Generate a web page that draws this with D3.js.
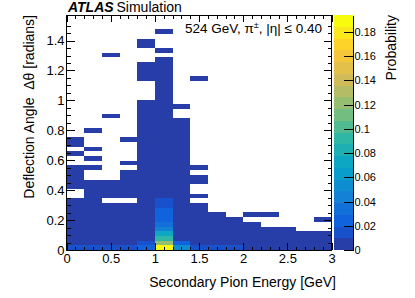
<!DOCTYPE html>
<html><head><meta charset="utf-8">
<script src="https://cdn.jsdelivr.net/npm/d3@7"></script>
<style>
body{margin:0;background:#fff}
svg{display:block}
text{font-family:"Liberation Sans",Arial,Helvetica,sans-serif;fill:#000}
</style></head>
<body><svg id="c" width="415" height="298"></svg>
<script>
// ---------- data ----------
const xEdges = [0,0.2,0.4,0.6,0.8,1.0,1.2,1.4,1.6,1.8,2.0,2.2,2.4,2.6,2.8,3.0];
const thetaMax = 1.5708;
const nThetaBins = 50;
const xTickValues = [0,0.5,1,1.5,2,2.5,3];
const xTickLabels = ["0","0.5","1","1.5","2","2.5","3"];
const yTickValues = [0,0.2,0.4,0.6,0.8,1.0,1.2,1.4];
const yTickLabels = ["0","0.2","0.4","0.6","0.8","1","1.2","1.4"];
const zTickValues = [0,0.02,0.04,0.06,0.08,0.1,0.12,0.14,0.16,0.18];
const zTickLabels = ["0","0.02","0.04","0.06","0.08","0.1","0.12","0.14","0.16","0.18"];
const zMax = 0.194;
const nContours = 20;
// probability per energy bin, listed by deflection-angle bin from the bottom (missing = empty)
const p00 = [.015,.006,.006,.006,.006,.006,.006,.006,.006,.006, .006,0,0,.002,.002,.002,.002,.002,0,0, .001,0,.001,.001];
const p01 = [.015,.005,.005,.005,.005,.005,.005,.005,.005,.005, .005,.005,.005,.005,.005,0,0,.001,0,.001, 0,.001,0,0,0,.001];
const p02 = [.015,.005,.005,.005,.005,.005,.005,.005,.005,.005, 0,.002,.002,.002,.002,0,0,0,0,0, 0,0,0,0,0,0,0,0,.001,0, 0,0,0,0,0,0,0,0,0,0, 0,.001];
const p03 = [.015,.005,.005,.005,.005,.005,.005,.005,.005,.005, 0,.002,.002,.002,.002,.002,.002,0,.001,0, 0,0,0,.001];
const p04 = [.022,.012,.005,.005,.005,.005,.005,.005,.005,.005, .005,.005,.005,.005,.005,.005,.005,.005,.005,.005, .005,.005,.005,.005,.005,.005,.005,.005,.005,.005, .005,.005,0,0,0,0,.002,.002,.002,.002, 0,0,0,.001,.001];
const p05 = [.192,.125,.092,.068,.045,.035,.025,.022,.020,.018, .015,.007,.007,.007,.007,.007,.007,.007,.007,.007, .006,.006,.006,.006,.006,.006,.006,.006,.006,.006, .005,.005,.005,.005,.005,.005,.005,.005,.005,.005, .004,0,.001,0,0,0,.001];
const p06 = [.052,.022,.005,.005,.005,.005,.005,.005,.005,.005, .005,.005,.005,.005,.005,.005,.005,.005,.005,.005, .004,.004,.004,.004,.004,.004,.004,.004,0,0, .001];
const p07 = [.014,.004,.004,.004,.004,.004,.004,.004,.004,.004, 0,.001,0,0,.001,.001,0,.001,0,0, 0,0,0,0,0,0,0,0,0,0, 0,0,0,0,0,0,.001];
const p08 = [.012,.004,.004,.004,.004,.004,.004,.004];
const p09 = [.011,.003,.003,.003,.003,.003,.003];
const p10 = [.005,.003,.003,.003,.003,.003,0,.001];
const p11 = [.003,.003,.003,.003,.003,0,0,.001];
const p12 = [.003,.003,.003,.003,.003];
const p13 = [.003,.003,.003,.003];
const p14 = [.003,.003,.003,.003,0,0,.001];
const probability = [p00,p01,p02,p03,p04,p05,p06,p07,p08,p09,p10,p11,p12,p13,p14];

const topLabel = "ATLAS";
const topLabel2 = "Simulation";
const xTitle = "Secondary Pion Energy [GeV]";
const yTitle = "Deflection Angle  \u0394\u03b8 [radians]";
const zTitle = "Probability";

// ROOT kBird palette
const birdStops = [0,0.125,0.25,0.375,0.5,0.625,0.75,0.875,1];
const birdR = [0.2082,0.0592,0.0780,0.0232,0.1802,0.5301,0.8186,0.9956,0.9764];
const birdG = [0.1664,0.3599,0.5041,0.6419,0.7178,0.7492,0.7328,0.7862,0.9832];
const birdB = [0.5293,0.8684,0.8385,0.7914,0.6425,0.4662,0.3499,0.1968,0.0539];

// ---------- drawing ----------
const svg = d3.select("#c");
const L=66.5, R=331.5, T=15, B=250;
const x = d3.scaleLinear().domain([0,3]).range([L,R]);
const y = d3.scaleLinear().domain([0,thetaMax]).range([B,T]);
const z = d3.scaleLinear().domain([0,zMax]).range([B,T]);
const bird = d3.scaleLinear().domain(birdStops)
  .range(birdStops.map((s,i)=>d3.rgb(birdR[i]*255,birdG[i]*255,birdB[i]*255)))
  .interpolate(d3.interpolateRgb);
function levelColor(k){
  const idx = Math.floor((k+0.99)*255/nContours);
  return bird(Math.min(idx,254)/254);
}
function levelOf(v){ return Math.min(nContours-1, Math.floor(v/zMax*nContours)); }

const dTheta = thetaMax/nThetaBins;
const cells = [];
probability.forEach((col,i)=>col.forEach((v,j)=>{ if(v>0) cells.push({i,j,v}); }));
svg.append("g").attr("shape-rendering","crispEdges").selectAll("rect").data(cells).join("rect")
  .attr("x",d=>x(xEdges[d.i]))
  .attr("width",d=>x(xEdges[d.i+1])-x(xEdges[d.i]))
  .attr("y",d=>y((d.j+1)*dTheta))
  .attr("height",d=>y(d.j*dTheta)-y((d.j+1)*dTheta))
  .attr("fill",d=>levelColor(levelOf(d.v)));

// frame
svg.append("rect").attr("x",L).attr("y",T).attr("width",R-L).attr("height",B-T)
  .attr("fill","none").attr("stroke","#000").attr("stroke-width",1).attr("shape-rendering","crispEdges");

const xMinor = d3.range(0,3.0001,0.1);
const yMinor = d3.range(0,1.55,0.05);
function styleAxis(g){ g.select(".domain").remove(); g.selectAll("line").attr("stroke","#000").attr("shape-rendering","crispEdges"); }

// bottom
svg.append("g").attr("transform",`translate(0,${B})`)
  .call(d3.axisBottom(x).tickValues(xTickValues).tickFormat((d,i)=>xTickLabels[i]).tickSizeInner(-7).tickSizeOuter(0).tickPadding(4))
  .call(styleAxis).call(g=>g.selectAll("text").attr("font-size",13).attr("font-family",null));
svg.append("g").attr("transform",`translate(0,${B})`)
  .call(d3.axisBottom(x).tickValues(xMinor).tickFormat("").tickSizeInner(-3.5).tickSizeOuter(0)).call(styleAxis);
// top
svg.append("g").attr("transform",`translate(0,${T})`)
  .call(d3.axisTop(x).tickValues(xTickValues).tickFormat("").tickSizeInner(-7).tickSizeOuter(0)).call(styleAxis);
svg.append("g").attr("transform",`translate(0,${T})`)
  .call(d3.axisTop(x).tickValues(xMinor).tickFormat("").tickSizeInner(-3.5).tickSizeOuter(0)).call(styleAxis);
// left
svg.append("g").attr("transform",`translate(${L},0)`)
  .call(d3.axisLeft(y).tickValues(yTickValues).tickFormat((d,i)=>yTickLabels[i]).tickSizeInner(-8).tickSizeOuter(0).tickPadding(2))
  .call(styleAxis).call(g=>g.selectAll("text").attr("font-size",13).attr("font-family",null));
svg.append("g").attr("transform",`translate(${L},0)`)
  .call(d3.axisLeft(y).tickValues(yMinor).tickFormat("").tickSizeInner(-4).tickSizeOuter(0)).call(styleAxis);
// right
svg.append("g").attr("transform",`translate(${R},0)`)
  .call(d3.axisRight(y).tickValues(yTickValues).tickFormat("").tickSizeInner(-8).tickSizeOuter(0)).call(styleAxis);
svg.append("g").attr("transform",`translate(${R},0)`)
  .call(d3.axisRight(y).tickValues(yMinor).tickFormat("").tickSizeInner(-4).tickSizeOuter(0)).call(styleAxis);

// colour bar
const CL=333.5, CR=352.5;
const bands = d3.range(nContours);
svg.append("g").attr("shape-rendering","crispEdges").selectAll("rect").data(bands).join("rect")
  .attr("x",CL).attr("width",CR-CL)
  .attr("y",k=>z((k+1)*zMax/nContours))
  .attr("height",k=>z(k*zMax/nContours)-z((k+1)*zMax/nContours))
  .attr("fill",k=>levelColor(k));
svg.append("g").attr("transform",`translate(${CR},0)`)
  .call(d3.axisRight(z).tickValues(zTickValues).tickFormat((d,i)=>zTickLabels[i]).tickSizeInner(-9).tickSizeOuter(0).tickPadding(2))
  .call(g=>{ g.select(".domain").attr("stroke","#000").attr("shape-rendering","crispEdges");
    g.selectAll("line").attr("stroke","#000").attr("shape-rendering","crispEdges");
    g.selectAll("text").attr("font-size",11).attr("font-family",null); });

// titles
svg.append("text").attr("x",336).attr("y",287).attr("text-anchor","end").attr("font-size",14).text(xTitle);
svg.append("text").attr("transform","translate(33.5,15) rotate(-90)").attr("text-anchor","end")
  .attr("font-size",14).style("white-space","pre").text(yTitle);
svg.append("text").attr("transform","translate(396,15) rotate(-90)").attr("text-anchor","end")
  .attr("font-size",14).text(zTitle);
svg.append("text").attr("x",68).attr("y",11.5).attr("font-size",14).attr("font-weight","bold").attr("font-style","italic").text(topLabel);
svg.append("text").attr("x",116.5).attr("y",11.5).attr("font-size",14).text(topLabel2);
const lab = svg.append("text").attr("x",322).attr("y",33).attr("text-anchor","end").attr("font-size",13.5);
lab.append("tspan").text("524 GeV, \u03c0");
lab.append("tspan").attr("font-size",9).attr("dy",-5).text("\u00b1");
lab.append("tspan").attr("dy",5).text(", |\u03b7| \u2264 0.40");
</script></body></html>
